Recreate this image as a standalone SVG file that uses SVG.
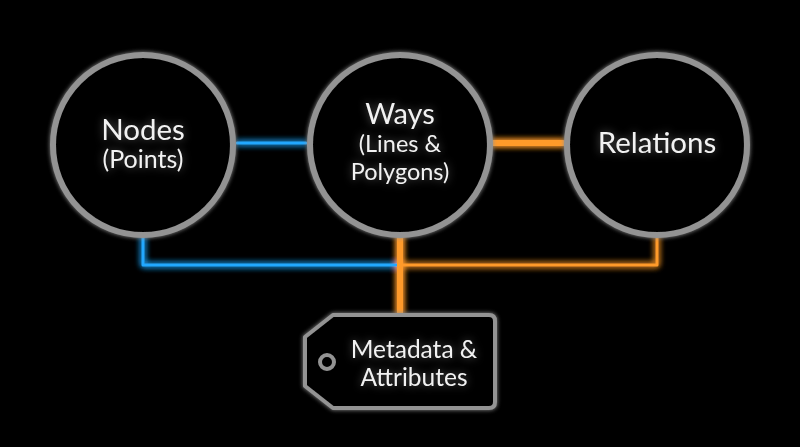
<svg xmlns="http://www.w3.org/2000/svg" width="800" height="447" viewBox="0 0 800 447">
<defs>
<filter id="glow" x="-50%" y="-50%" width="200%" height="200%">
<feGaussianBlur in="SourceGraphic" stdDeviation="3" result="b"/>
<feMerge><feMergeNode in="b"/><feMergeNode in="b"/><feMergeNode in="SourceGraphic"/></feMerge>
</filter>
<filter id="tglow" x="-20%" y="-40%" width="140%" height="180%">
<feGaussianBlur in="SourceAlpha" stdDeviation="4" result="a"/>
<feFlood flood-color="#ffffff" flood-opacity="0.35"/>
<feComposite in2="a" operator="in" result="g"/>
<feMerge><feMergeNode in="g"/><feMergeNode in="SourceGraphic"/></feMerge>
</filter>
<filter id="rglow" x="-20%" y="-20%" width="140%" height="140%">
<feGaussianBlur in="SourceGraphic" stdDeviation="2" result="b"/>
<feMerge><feMergeNode in="b"/><feMergeNode in="SourceGraphic"/></feMerge>
</filter>
</defs>
<style>
.ring{fill:#050505;stroke:#939393;stroke-width:6}
.lbl{fill:#f2f2f2;font-family:Lato,"Open Sans",sans-serif;text-anchor:middle}
.blue{stroke:#22a8ff;fill:none;stroke-linecap:round;stroke-linejoin:round}
.orange{stroke:#ff9a2a;fill:none;stroke-linecap:round;stroke-linejoin:round}
</style>
<rect width="800" height="447" fill="#000"/>
<g id="connectors" filter="url(#glow)">
<path class="blue" stroke-width="3" d="M237 143 H306"/>
<path class="orange" stroke-width="6" d="M493 143 H563"/>
<path class="blue" stroke-width="3" d="M143 235 V265 H400"/>
<path class="orange" stroke-width="3" d="M400 265 H657 V235"/>
<path class="orange" stroke-width="6" d="M400 235 V313"/>
</g>
<g id="nodes">
<circle class="ring" cx="143" cy="145" r="90" filter="url(#rglow)"/>
<g filter="url(#tglow)">
<text class="lbl" x="143" y="140" font-size="29.5">Nodes</text>
<text class="lbl" x="143" y="168" font-size="25">(Points)</text>
</g>
</g>
<g id="ways">
<circle class="ring" cx="400" cy="145" r="90" filter="url(#rglow)"/>
<g filter="url(#tglow)">
<text class="lbl" x="400" y="124" font-size="29">Ways</text>
<text class="lbl" x="400" y="152" font-size="23.5">(Lines &amp;</text>
<text class="lbl" x="400" y="180" font-size="23.5">Polygons)</text>
</g>
</g>
<g id="relations">
<circle class="ring" cx="657" cy="145" r="90" filter="url(#rglow)"/>
<text class="lbl" x="657" y="153" font-size="29.5" filter="url(#tglow)">Relations</text>
</g>
<g id="metadata">
<path d="M333 315 H489 Q495 315 495 321 V402 Q495 408 489 408 H333 L305 386 V337 Z" fill="#050505" stroke="#939393" stroke-width="4" stroke-linejoin="round" filter="url(#rglow)"/>
<circle cx="327" cy="362" r="7" fill="none" stroke="#939393" stroke-width="4"/>
<g filter="url(#tglow)">
<text class="lbl" x="414" y="358" font-size="24.5">Metadata &amp;</text>
<text class="lbl" x="414" y="386" font-size="24.5">Attributes</text>
</g>
</g>
</svg>
